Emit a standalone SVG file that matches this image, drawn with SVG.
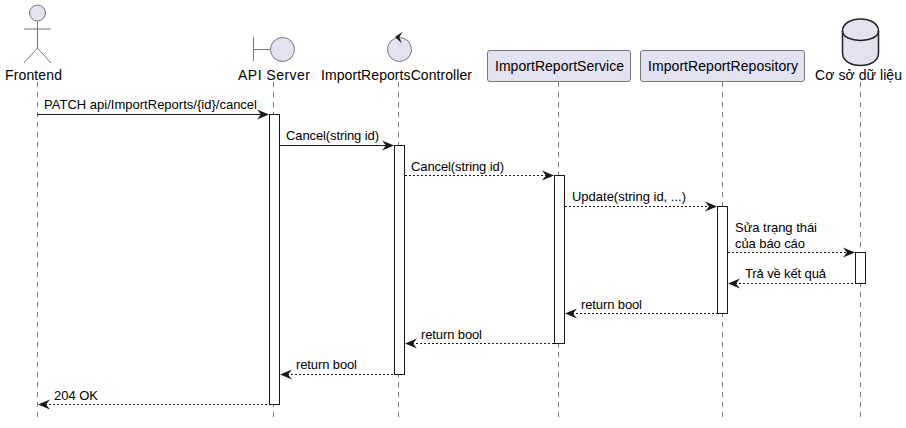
<svg xmlns="http://www.w3.org/2000/svg" width="906" height="428" viewBox="0 0 906 428">
<style>
text{font-family:"Liberation Sans",Arial,sans-serif;font-size:13px;fill:#000}
.p{font-size:14px}
.s{fill:#E2E2F0;stroke:#777;stroke-width:1}
.db{fill:#E2E2F0;stroke:#222;stroke-width:1.500}
.b{fill:#E2E2F0;stroke:#777;stroke-width:1}
.l{stroke:#777;stroke-width:1;stroke-dasharray:5 5;fill:none}
.a{fill:#fff;stroke:#181818;stroke-width:1}
.m{stroke:#181818;stroke-width:1;fill:none}
.d{stroke:#181818;stroke-width:1;stroke-dasharray:2 2;fill:none}
.h{fill:#181818;stroke:none}
</style>
<g id="lifelines">
<path class="l" d="M37.500 82V418M273.500 82V418M398.500 82V418M558.500 82V418M722.500 82V418M860.500 82V418"/>
</g>
<g id="frontend">
<circle class="s" cx="37.500" cy="13" r="8"/>
<path class="s" style="fill:none" d="M37.500 21V48M24 29H51M37.500 48L24 63M37.500 48L51 63"/>
<text class="p" x="5" y="80" textLength="57">Frontend</text>
</g>
<g id="api-server">
<path class="s" style="fill:none" d="M253.500 37V61M253.500 49.500H270"/>
<circle class="s" cx="282.500" cy="49.500" r="12"/>
<text class="p" x="238" y="80" textLength="72">API Server</text>
</g>
<g id="controller">
<circle class="s" cx="399.500" cy="49.500" r="12"/>
<path class="h" d="M395 37L402.700 31.700L399.300 37.300L401.700 43.300Z"/>
<text class="p" x="321" y="80" textLength="151">ImportReportsController</text>
</g>
<g id="service">
<rect class="b" x="487.500" y="50.500" width="143" height="31" rx="2.500"/>
<text class="p" x="495" y="71" textLength="129">ImportReportService</text>
</g>
<g id="repository">
<rect class="b" x="640.500" y="50.500" width="164" height="31" rx="2.500"/>
<text class="p" x="648" y="71" textLength="150">ImportReportRepository</text>
</g>
<g id="database">
<path class="db" d="M842.500 31C842.500 15 878.500 15 878.500 31V53C878.500 69.500 842.500 69.500 842.500 53Z"/>
<path class="db" style="fill:none" d="M842.500 31C842.500 43.500 878.500 43.500 878.500 31"/>
<text class="p" x="815" y="80" textLength="87">Cơ sở dữ liệu</text>
</g>
<g id="activations">
<rect class="a" x="269.500" y="114.500" width="10" height="290"/>
<rect class="a" x="394.500" y="145.500" width="10" height="229"/>
<rect class="a" x="554.500" y="175.500" width="10" height="168"/>
<rect class="a" x="717.500" y="206.500" width="10" height="107"/>
<rect class="a" x="855.500" y="252.500" width="10" height="31"/>
</g>
<g id="connectors">
<path class="m" d="M37 114.500H266"/><path class="h" d="M257 109.500L269 114.500L257 119.500L261 114.500Z"/>
<path class="m" d="M280 145.500H391"/><path class="h" d="M382 140.500L394 145.500L382 150.500L386 145.500Z"/>
<path class="d" d="M405 175.500H551"/><path class="h" d="M542 170.500L554 175.500L542 180.500L546 175.500Z"/>
<path class="d" d="M565 206.500H714"/><path class="h" d="M705 201.500L717 206.500L705 211.500L709 206.500Z"/>
<path class="d" d="M728 252.500H852"/><path class="h" d="M843 247.500L855 252.500L843 257.500L847 252.500Z"/>
<path class="d" d="M731 283.500H855"/><path class="h" d="M740 278.500L728 283.500L740 288.500L736 283.500Z"/>
<path class="d" d="M568 313.500H717"/><path class="h" d="M577 308.500L565 313.500L577 318.500L573 313.500Z"/>
<path class="d" d="M408 343.500H554"/><path class="h" d="M417 338.500L405 343.500L417 348.500L413 343.500Z"/>
<path class="d" d="M283 374.500H394"/><path class="h" d="M292 369.500L280 374.500L292 379.500L288 374.500Z"/>
<path class="d" d="M41 404.500H269"/><path class="h" d="M50 399.500L38 404.500L50 409.500L46 404.500Z"/>
</g>
<g id="labels">
<text x="44" y="109" textLength="213">PATCH api/ImportReports/{id}/cancel</text>
<text x="286" y="140" textLength="93">Cancel(string id)</text>
<text x="411" y="171" textLength="93">Cancel(string id)</text>
<text x="572" y="201" textLength="114">Update(string id, ...)</text>
<text x="735" y="232" textLength="82">Sửa trạng thái</text>
<text x="735" y="248" textLength="70">của báo cáo</text>
<text x="745" y="278" textLength="81">Trả về kết quả</text>
<text x="581" y="309" textLength="61">return bool</text>
<text x="421" y="339" textLength="61">return bool</text>
<text x="296" y="369" textLength="61">return bool</text>
<text x="54" y="400" textLength="44">204 OK</text>
</g>
</svg>
